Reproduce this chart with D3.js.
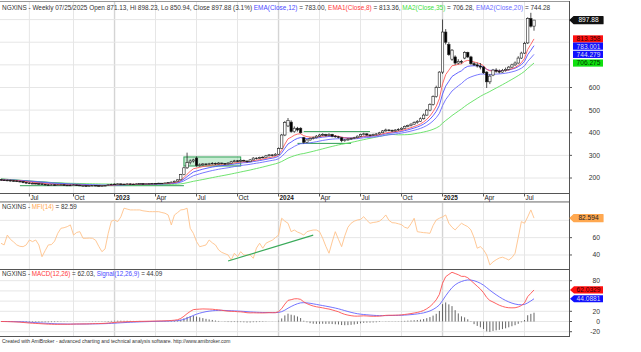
<!DOCTYPE html>
<html>
<head>
<meta charset="utf-8">
<script src="https://cdn.jsdelivr.net/npm/d3@7/dist/d3.min.js"></script>
<style>
  body { margin: 0; background: #fff; }
  svg { display: block; font-family: "Liberation Sans", Arial, sans-serif; }
</style>
</head>
<body>
<div id="chart"></div>
<script>
// ---- data (weekly bars, NGXINS) ----
const firstWeek = "2022-04-29";
// [open, high, low, close]
const weeklyBars = [
  [193,195,188,191],[191,194,188,190],[190,193,186,189],[189,192,185,188],[188,191,184,187],
  [187,190,182,185],[185,188,181,184],[184,186,177,180],[180,183,175,178],[178,181,174,176],
  [176,180,173,176],[176,178,172,175],[175,177,170,174],[174,176,169,172],[172,174,167,170],
  [170,173,166,169],[169,173,167,170],[170,172,166,168],[168,172,166,169],[169,173,167,170],
  [170,172,166,168],[168,170,165,167],[167,171,165,168],[168,172,166,169],[169,171,165,168],
  [168,170,164,166],[166,169,163,166],[166,168,162,165],[165,168,163,166],[166,169,164,167],
  [167,169,164,166],[166,168,163,165],[165,168,163,166],[166,169,164,167],[167,172,166,170],
  [170,175,169,172],[172,176,170,173],[173,177,171,174],[174,176,170,173],[173,175,170,172],
  [172,177,171,174],[174,176,171,173],[173,175,170,172],[172,176,171,174],[174,177,172,175],
  [175,176,171,173],[173,176,172,174],[174,177,172,175],[175,178,173,176],[176,177,173,175],
  [175,179,174,177],[177,178,174,176],[176,180,175,178],[178,182,177,180],[180,184,179,182],
  [182,188,181,186],[186,194,185,192],[192,218,190,215],[215,250,212,245],[245,312,240,268],
  [268,282,260,275],[275,285,268,280],[288,295,250,255],[255,265,250,258],[258,266,254,262],
  [262,265,256,260],[260,267,257,263],[263,270,260,265],[265,268,258,262],[262,270,260,266],
  [266,268,260,264],[264,266,258,262],[262,270,260,266],[266,276,264,272],[272,280,270,276],
  [276,279,270,274],[274,282,272,278],[278,281,272,275],[275,278,268,272],[272,284,270,280],
  [280,292,278,288],[288,291,282,286],[286,294,284,290],[290,296,287,292],[292,302,290,298],
  [298,306,295,302],[302,305,295,300],[300,310,298,305],[305,335,302,330],[330,395,328,390],
  [390,452,385,445],[430,465,425,455],[447,455,400,405],[405,428,400,420],[420,426,405,412],
  [420,424,396,400],[378,382,352,358],[358,372,355,368],[368,380,365,375],[375,383,370,378],
  [378,390,375,385],[385,395,382,390],[390,398,385,392],[392,395,383,388],[388,398,385,393],
  [393,395,380,385],[385,390,378,382],[382,386,375,380],[378,380,358,365],[365,372,360,368],
  [368,376,365,372],[372,378,368,375],[375,382,372,378],[378,388,375,385],[385,396,382,392],
  [392,400,388,395],[395,398,386,390],[390,394,384,388],[388,396,386,392],[392,398,388,395],
  [395,404,392,400],[400,412,398,408],[408,418,405,412],[412,416,406,410],[410,414,403,408],
  [408,416,405,412],[412,420,408,415],[415,424,412,420],[420,432,418,428],[428,436,424,432],
  [432,442,428,438],[438,450,435,445],[445,456,440,450],[450,468,448,462],[462,485,458,478],
  [478,505,475,500],[500,530,495,525],[525,565,520,560],[560,608,555,600],[600,672,598,668],
  [668,901,660,845],[845,858,790,800],[790,800,740,745],[725,770,718,765],[735,742,700,708],
  [708,725,702,715],[715,722,705,712],[730,760,725,755],[755,758,730,735],[735,740,700,705],
  [705,712,695,700],[700,710,688,695],[695,708,680,690],[690,695,660,665],[668,672,598,625],
  [625,660,615,650],[655,682,650,677],[677,685,665,672],[672,680,662,668],[668,682,665,675],
  [675,688,670,680],[680,695,676,690],[690,705,686,700],[700,715,695,708],[708,738,705,730],
  [730,758,726,752],[752,802,748,795],[797,910,792,905],[905,930,865,871],[871.13,898.23,850.94,897.88]
];

// MFI(14)
const mfiValues = [
  53.5,51.6,63,58,55,51.6,50,49.6,51.6,57.3, 55.4,57.3,51.6,38,45,51.6,52,56,65,70.8,
  71.5,72.7,74.7,63,66,66.9,59.3,59.3,59.5,59.3, 57,50,43.8,47,65,79,80.4,78.5,84,94,
  93,92,92,92,92,91,90.5,90,90,90, 90,89,88.2,86.2,74.7,86.2,89,92,92.5,94,
  70.8,65,55.4,49.6,50.5,51.6,57.3,54,51.6,45.8, 43,41.5,40,34.2,42,38,43.8,40,40,40,
  36.2,48,53.5,47.8,53.5,55.4,57,60,63,82.4, 79,76.6,66.9,68.8,66.5,65,63,66.9,68,68.8,
  68.8,66.9,59.3,50,42,55,66.9,58,49.6,62, 72,76.6,79,80.4,81,84.2,80,76.6,77.5,78,
  79,82,86.2,80,77.3,77,76,75,72,70.8, 76,82.4,66.9,66.3,65.8,65.5,65,74,80.4,82.4,
  84,86.2,76.6,72,68.9,73,76.6,74.5,72.7,68.9, 60,47.8,49.6,46,40,28.5,32,34.5,36.5,37.4,
  36,34.2,37,42,60,78.5,76.6,84,92,82.59
];

const priceGrid = [200, 300, 400, 500, 600, 700, 800, 900];
const priceLabels = [200, 300, 400, 500, 600];
const mfiGrid = [40, 60, 80];
const mfiLabels = [40, 60];
const macdGrid = [-20, 0, 20, 40, 60, 80];
const macdLabels = [-20, 0, 20, 80];
const monthNames = ["Jan","Feb","Mar","Apr","May","Jun","Jul","Aug","Sep","Oct","Nov","Dec"];

// user-drawn trendlines / boxes [startWeek, startValue, endWeek, endValue]
const priceBoxes = [
  ["2023-06-09", 293, "2023-10-13", 253]
];
const priceTrendLines = [
  ["2024-03-01", 405, "2024-07-26", 405],
  ["2024-02-16", 353, "2024-06-14", 353],
  ["2022-06-10", 166, "2023-06-09", 166],
  ["2022-04-29", 196, "2022-10-21", 171]
];
const mfiTrendLines = [
  ["2023-09-15", 33, "2024-03-22", 63]
];

// ---- derived ----
const parse = d3.timeParse("%Y-%m-%d");
const dates = weeklyBars.map((b, i) => d3.timeDay.offset(parse(firstWeek), 7 * i));
const closes = weeklyBars.map(b => b[3]);

function ema(values, n) {
  const k = 2 / (n + 1);
  let prev = values[0];
  return values.map((v, i) => (prev = i === 0 ? v : v * k + prev * (1 - k)));
}
function sma(values, n) {
  return values.map((v, i) => d3.mean(values.slice(Math.max(0, i - n + 1), i + 1)));
}
const ema8 = ema(closes, 8), ema12 = ema(closes, 12), ema20 = ema(closes, 20), ma35 = sma(closes, 35);
const ema26 = ema(closes, 26);
const macd = ema12.map((v, i) => v - ema26[i]);
const signal = ema(macd, 9);
const hist = macd.map((v, i) => v - signal[i]);

// ---- layout ----
const W = 641, H = 352;
const axisX = 569;
const panes = {
  price: { top: 2, bottom: 193 },
  mfi: { top: 202, bottom: 269 },
  macd: { top: 269.5, bottom: 336 }
};

const svg = d3.select("#chart").append("svg").attr("width", W).attr("height", H);

const x = d3.scaleTime().domain([dates[0], dates[dates.length - 1]]).range([1, 534]);
const yPrice = d3.scaleLinear().domain([200, 900]).range([178, 19.6]);
const yMfi = d3.scaleLinear().domain([20, 100]).range([272.3, 203]);
const yMacd = d3.scaleLinear().domain([-20, 80]).range([331.7, 280.7]);

// clip paths
const defs = svg.append("defs");
Object.entries(panes).forEach(([k, p]) => {
  defs.append("clipPath").attr("id", "clip-" + k)
    .append("rect").attr("x", 0).attr("y", p.top).attr("width", axisX).attr("height", p.bottom - p.top);
});

// month ticks: first bar of Jan/Apr/Jul/Oct
const monthTicks = dates.filter((d, i) => i > 0 && d.getMonth() !== dates[i - 1].getMonth() && d.getMonth() % 3 === 0);

// vertical grid
const vgrid = svg.append("g");
[panes.price, panes.mfi, panes.macd].forEach(p => {
  vgrid.selectAll(null).data(monthTicks).join("line")
    .attr("x1", d => x(d)).attr("x2", d => x(d))
    .attr("y1", p.top).attr("y2", p.bottom)
    .attr("stroke", d => d.getMonth() === 0 ? "#d4d4d4" : "#e6e6e6")
    .attr("stroke-width", d => d.getMonth() === 0 ? 1.4 : 1);
});

function hGrid(vals, y) {
  svg.append("g").selectAll("line").data(vals).join("line")
    .attr("x1", 0).attr("x2", axisX).attr("y1", d => y(d)).attr("y2", d => y(d))
    .attr("stroke", "#e6e6e6");
}
hGrid(priceGrid, yPrice);
hGrid(mfiGrid, yMfi);
hGrid(macdGrid, yMacd);

// ---- price pane ----
const gp = svg.append("g").attr("clip-path", "url(#clip-price)");

// green boxes / trendlines
gp.selectAll(".box").data(priceBoxes).join("rect")
  .attr("x", d => x(parse(d[0]))).attr("y", d => yPrice(d[1]))
  .attr("width", d => x(parse(d[2])) - x(parse(d[0])))
  .attr("height", d => yPrice(d[3]) - yPrice(d[1]))
  .attr("fill", "rgba(60,190,100,0.28)").attr("stroke", "#2e9e55").attr("stroke-width", 1);
gp.selectAll(".tl").data(priceTrendLines).join("line")
  .attr("x1", d => x(parse(d[0]))).attr("y1", d => yPrice(d[1]))
  .attr("x2", d => x(parse(d[2]))).attr("y2", d => yPrice(d[3]))
  .attr("stroke", "#2e9e55").attr("stroke-width", 1);

const lineP = vals => d3.line().x((d, i) => x(dates[i])).y(d => yPrice(d))(vals);
[[ma35, "#5fe05f"], [ema20, "#6a6aff"], [ema12, "#5050ff"], [ema8, "#ff5a5a"]].forEach(([v, c]) => {
  gp.append("path").attr("d", lineP(v)).attr("fill", "none").attr("stroke", c).attr("stroke-width", 0.9);
});

// candles
const bw = 2.4;
const candles = gp.selectAll(".candle").data(weeklyBars).join("g");
candles.append("line")
  .attr("x1", (d, i) => x(dates[i])).attr("x2", (d, i) => x(dates[i]))
  .attr("y1", d => yPrice(d[1])).attr("y2", d => yPrice(d[2]))
  .attr("stroke", "#222").attr("stroke-width", 0.8);
candles.append("rect")
  .attr("x", (d, i) => x(dates[i]) - bw / 2)
  .attr("y", d => yPrice(Math.max(d[0], d[3])))
  .attr("width", bw)
  .attr("height", d => Math.max(0.6, Math.abs(yPrice(d[0]) - yPrice(d[3]))))
  .attr("fill", d => d[3] >= d[0] ? "#fff" : "#000")
  .attr("stroke", "#222").attr("stroke-width", 0.6);

// ---- MFI pane ----
const gm = svg.append("g").attr("clip-path", "url(#clip-mfi)");
gm.append("path")
  .attr("d", d3.line().x((d, i) => x(dates[i])).y(d => yMfi(d))(mfiValues))
  .attr("fill", "none").attr("stroke", "#ffc28a").attr("stroke-width", 0.9);
gm.selectAll(".tl").data(mfiTrendLines).join("line")
  .attr("x1", d => x(parse(d[0]))).attr("y1", d => yMfi(d[1]))
  .attr("x2", d => x(parse(d[2]))).attr("y2", d => yMfi(d[3]))
  .attr("stroke", "#3aaa5a").attr("stroke-width", 1.2);

// ---- MACD pane ----
const gc = svg.append("g").attr("clip-path", "url(#clip-macd)");
gc.selectAll(".h").data(hist).join("line")
  .attr("x1", (d, i) => x(dates[i])).attr("x2", (d, i) => x(dates[i]))
  .attr("y1", yMacd(0)).attr("y2", d => yMacd(d))
  .attr("stroke", "#555").attr("stroke-width", 0.9);
gc.append("path").attr("d", d3.line().x((d, i) => x(dates[i])).y(d => yMacd(d))(signal))
  .attr("fill", "none").attr("stroke", "#6464ff").attr("stroke-width", 0.9);
gc.append("path").attr("d", d3.line().x((d, i) => x(dates[i])).y(d => yMacd(d))(macd))
  .attr("fill", "none").attr("stroke", "#ff5050").attr("stroke-width", 0.9);

// ---- frame ----
const frame = svg.append("g").attr("stroke", "#555").attr("stroke-width", 1);
frame.append("line").attr("x1", 0).attr("x2", axisX).attr("y1", 1.5).attr("y2", 1.5).attr("stroke", "#999");
frame.append("line").attr("x1", 0).attr("x2", axisX).attr("y1", 193.5).attr("y2", 193.5);
frame.append("line").attr("x1", 0).attr("x2", axisX).attr("y1", 201.5).attr("y2", 201.5).attr("stroke", "#aaa");
frame.append("line").attr("x1", 0).attr("x2", axisX).attr("y1", 202.5).attr("y2", 202.5).attr("stroke", "#bbb");
frame.append("line").attr("x1", 0).attr("x2", axisX).attr("y1", 269.5).attr("y2", 269.5);
frame.append("line").attr("x1", 0).attr("x2", axisX).attr("y1", 336.5).attr("y2", 336.5);
frame.append("line").attr("x1", axisX + 0.5).attr("x2", axisX + 0.5).attr("y1", 1).attr("y2", 337);

// date axis
const dAxis = svg.append("g");
dAxis.selectAll("line").data(monthTicks).join("line")
  .attr("x1", d => x(d)).attr("x2", d => x(d)).attr("y1", 194).attr("y2", 196.5)
  .attr("stroke", "#555");
dAxis.selectAll("text").data(monthTicks).join("text")
  .attr("x", d => x(d) + 1).attr("y", 199.8)
  .attr("font-size", 6.4).attr("fill", "#222")
  .attr("font-weight", d => d.getMonth() === 0 ? "bold" : "normal")
  .text(d => d.getMonth() === 0 ? d.getFullYear() : monthNames[d.getMonth()]);

// right axis labels
function rightAxis(vals, y, fmt) {
  const g = svg.append("g");
  g.selectAll("line").data(vals).join("line")
    .attr("x1", axisX).attr("x2", axisX + 3).attr("y1", d => y(d)).attr("y2", d => y(d))
    .attr("stroke", "#555");
  g.selectAll("text").data(vals).join("text")
    .attr("x", 600).attr("y", d => y(d) + 2.4).attr("text-anchor", "end")
    .attr("font-size", 6.8).attr("fill", "#333").text(fmt || (d => d));
}
rightAxis(priceLabels, yPrice);
rightAxis(mfiLabels, yMfi);
rightAxis(macdLabels, yMacd);

// value tags
function tag(yc, txt, bg, fg, arrow, rounded) {
  const g = svg.append("g");
  const h = 7.2, x0 = axisX + 1, x1 = 603;
  if (arrow) {
    g.append("path")
      .attr("d", `M${x0},${yc} L${x0 + 4},${yc - h / 2} L${x1},${yc - h / 2} L${x1},${yc + h / 2} L${x0 + 4},${yc + h / 2} Z`)
      .attr("fill", bg).attr("stroke", rounded ? bg : "none").attr("stroke-linejoin", "round").attr("stroke-width", rounded ? 1.2 : 0);
  } else {
    g.append("rect").attr("x", x0 + 3).attr("y", yc - h / 2).attr("width", x1 - x0 - 3).attr("height", h).attr("fill", bg);
  }
  g.append("text").attr("x", (x0 + 4 + x1) / 2).attr("y", yc + 2.4).attr("text-anchor", "middle")
    .attr("font-size", 6.6).attr("fill", fg).text(txt);
}
const last = weeklyBars.length - 1;
tag(yPrice(closes[last]), "897.88", "#111", "#fff", true, true);
// stack the indicator tags so they do not overlap
const priceTags = [
  [ema8[last], "813.358", "#ff1010", "#300"],
  [ema12[last], "783.001", "#1010ff", "#dde"],
  [ema20[last], "744.279", "#1010ff", "#dde"],
  [ma35[last], "706.275", "#10e010", "#030"]
].sort((a, b) => b[0] - a[0]);
let prevY = -Infinity;
priceTags.forEach(t => {
  let yc = Math.max(yPrice(t[0]), prevY + 7.2);
  prevY = yc;
  tag(yc, t[1], t[2], t[3], false);
});
tag(yMfi(mfiValues[last]), "82.594", "#ffa850", "#222", true, true);
tag(yMacd(macd[last]), "62.0329", "#ff1010", "#300", true, false);
tag(Math.max(yMacd(signal[last]), yMacd(macd[last]) + 7.4), "44.0881", "#1010ff", "#dde", true, false);

// titles
function title(y, size, parts) {
  const t = svg.append("text").attr("x", 2).attr("y", y).attr("font-size", size).attr("fill", "#333");
  parts.forEach(([s, c]) => t.append("tspan").attr("fill", c || "#333").text(s));
}
title(10, 6.45, [
  ["NGXINS - Weekly 07/25/2025 Open 871.13, Hi 898.23, Lo 850.94, Close 897.88 (3.1%) "],
  ["EMA(Close,12)", "#4a4aff"], [" = 783.00, "],
  ["EMA1(Close,8)", "#ff3a3a"], [" = 813.36, "],
  ["MA2(Close,35)", "#3ee03e"], [" = 706.28, "],
  ["EMA2(Close,20)", "#6a6aff"], [" = 744.28"]
]);
title(208.5, 6.3, [["NGXINS - "], ["MFI(14)", "#ffa850"], [" = 82.59"]]);
title(275.5, 6.3, [["NGXINS - "], ["MACD(12,26)", "#ff3a3a"], [" = 62.03, "], ["Signal(12,26,9)", "#4a4aff"], [" = 44.09"]]);

svg.append("text").attr("x", 2).attr("y", 342.5).attr("font-size", 5).attr("fill", "#333")
  .text("Created with AmiBroker - advanced charting and technical analysis software. http://www.amibroker.com");
</script>
</body>
</html>
